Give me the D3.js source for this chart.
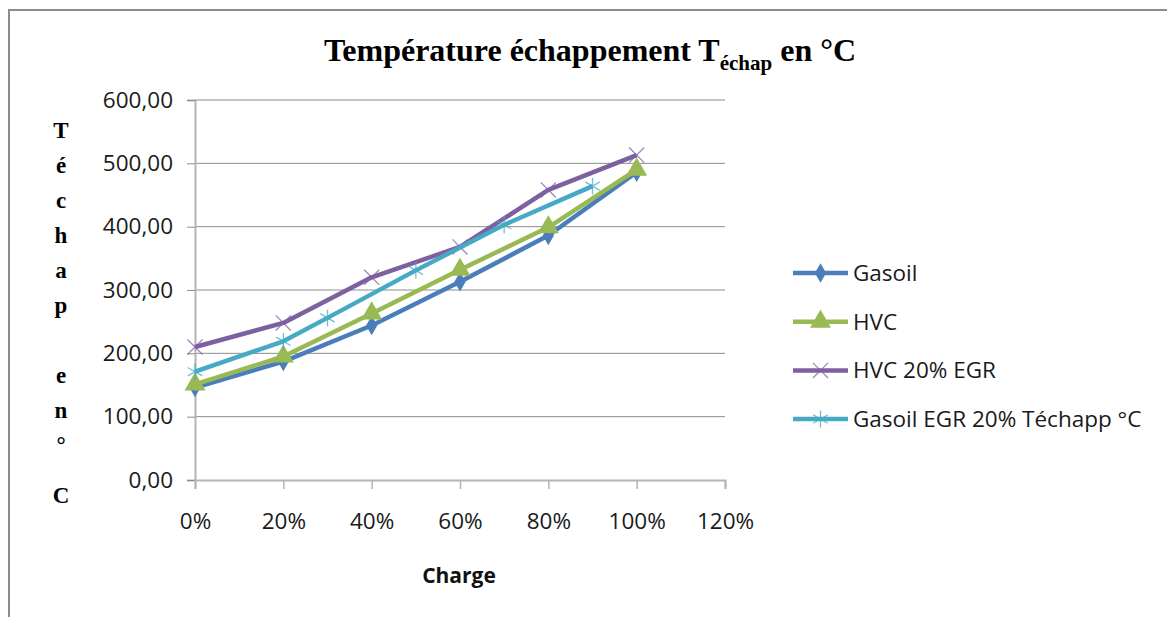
<!DOCTYPE html>
<html>
<head>
<meta charset="utf-8">
<script src="https://cdn.jsdelivr.net/npm/d3@7"></script>
<style>
  body { margin: 0; background: #fff; }
  svg { display: block; }
</style>
</head>
<body>
<div class="canvas"></div>
<script>
// data
const charge = [0, 0.2, 0.4, 0.6, 0.8, 1.0]
const gasoil = [146, 187, 244, 313, 386, 486]
const hvc = [151, 195, 263, 332, 399, 490]
const hvcEgr = [210, 248, 320, 368, 458, 513]
const chargeEgr = [0, 0.2, 0.3, 0.5, 0.7, 0.9]
const gasoilEgr = [171, 219, 256, 331, 403, 464]
const seriesNames = ['Gasoil', 'HVC', 'HVC 20% EGR', 'Gasoil EGR 20% Téchapp °C']
const yTicks = [0, 100, 200, 300, 400, 500, 600]
const xTicks = [0, 0.2, 0.4, 0.6, 0.8, 1.0, 1.2]
const yTitleLetters = ['T', 'é', 'c', 'h', 'a', 'p', '', 'e', 'n', '°', 'C']

const series = [
  {name: seriesNames[0], xs: charge, ys: gasoil, color: '#4a7ebb', marker: 'diamond'},
  {name: seriesNames[1], xs: charge, ys: hvc, color: '#98b954', marker: 'triangle'},
  {name: seriesNames[2], xs: charge, ys: hvcEgr, color: '#7d60a0', marker: 'x'},
  {name: seriesNames[3], xs: chargeEgr, ys: gasoilEgr, color: '#46aac5', marker: 'star'}
]

const W = 1167, H = 617
const margin = {top: 100, left: 195}
const graphWidth = 530
const graphHeight = 380
const uiFont = '"Open Sans", Lato, sans-serif'
const serifFont = '"Liberation Serif", "Times New Roman", serif'

const svg = d3.select('.canvas')
              .append('svg')
              .attr('width', W)
              .attr('height', H)

// outer frame (top + left edges visible)
svg.append('path')
   .attr('d', `M9,${H} L9,10 L${W},10`)
   .attr('fill', 'none')
   .attr('stroke', '#8c8c8c')
   .attr('stroke-width', 2)

const graph = svg.append('g')
                 .attr('transform', `translate(${margin.left}, ${margin.top})`)

//scales
const xScale = d3.scaleLinear().domain([0, 1.2]).range([0, graphWidth])
const yScale = d3.scaleLinear().domain([0, 600]).range([graphHeight, 0])

// gridlines
graph.append('g')
     .selectAll('line')
     .data(yTicks.filter(d => d > 0))
     .join('line')
     .attr('x1', 0)
     .attr('x2', graphWidth)
     .attr('y1', d => yScale(d))
     .attr('y2', d => yScale(d))
     .attr('stroke', '#8c8c8c')
     .attr('stroke-width', 1)

//axes
const yAxis = d3.axisLeft(yScale)
                .tickValues(yTicks)
                .tickSize(8)
                .tickPadding(14)
                .tickFormat(d => d3.format('.2f')(d).replace('.', ','))
const xAxis = d3.axisBottom(xScale)
                .tickValues(xTicks)
                .tickSize(9)
                .tickPadding(24)
                .tickFormat(d => Math.round(d * 100) + '%')

const yAxisGroup = graph.append('g').call(yAxis)
const xAxisGroup = graph.append('g')
                        .attr('transform', `translate(0, ${graphHeight})`)
                        .call(xAxis)

;[xAxisGroup, yAxisGroup].forEach(g => {
  g.select('.domain').attr('stroke', '#b4b4b4').attr('stroke-width', 2)
  g.selectAll('.tick line').attr('stroke', '#b4b4b4').attr('stroke-width', 1.5)
  g.selectAll('text')
   .attr('fill', '#1a1a1a')
   .style('font-family', uiFont)
   .style('font-size', '22.5px')
})
yAxisGroup.selectAll('.tick line').attr('stroke', '#8c8c8c').attr('stroke-width', 1)

// line generator
const line = d3.line()
               .x(d => xScale(d[0]))
               .y(d => yScale(d[1]))

const symbolFor = {
  diamond: d3.symbol().type(d3.symbolDiamond).size(110),
  triangle: d3.symbol().type(d3.symbolTriangle).size(190),
  x: d3.symbol().type(d3.symbolX).size(150),
  star: d3.symbol().type(d3.symbolAsterisk).size(200)
}

const drawMarker = (g, s) => {
  const hollow = s.marker === 'x' || s.marker === 'star'
  g.attr('d', symbolFor[s.marker]())
   .attr('fill', hollow ? 'none' : s.color)
   .attr('stroke', s.color)
   .attr('stroke-width', hollow ? 1.3 : 0)
   .attr('opacity', hollow ? 0.75 : 1)
}

series.forEach(s => {
  const pts = s.xs.map((x, i) => [x, s.ys[i]])
  const g = graph.append('g')
  g.append('path')
   .datum(pts)
   .attr('fill', 'none')
   .attr('stroke', s.color)
   .attr('stroke-width', 4.5)
   .attr('stroke-linejoin', 'round')
   .attr('d', line)
  g.selectAll('path.marker')
   .data(pts)
   .join('path')
   .attr('class', 'marker')
   .attr('transform', d => `translate(${xScale(d[0])}, ${yScale(d[1])})`)
   .each(function(){ drawMarker(d3.select(this), s) })
})

// legend
const legend = svg.append('g').attr('transform', 'translate(793, 273)')
series.forEach((s, i) => {
  const row = legend.append('g').attr('transform', `translate(0, ${i * 48.7})`)
  row.append('line')
     .attr('x1', 0).attr('x2', 55)
     .attr('stroke', s.color)
     .attr('stroke-width', 4.5)
  row.append('path')
     .attr('transform', 'translate(27.5, 0)')
     .call(g => drawMarker(g, s))
  row.append('text')
     .attr('x', 60)
     .attr('dy', '0.35em')
     .attr('fill', '#1a1a1a')
     .style('font-family', uiFont)
     .style('font-size', '22.5px')
     .text(s.name)
})

// title
const title = svg.append('text')
                 .attr('x', 590)
                 .attr('y', 61)
                 .attr('text-anchor', 'middle')
                 .style('font-family', serifFont)
                 .style('font-weight', 'bold')
                 .style('font-size', '32px')
title.append('tspan').text('Température échappement T')
title.append('tspan').attr('dy', 9).style('font-size', '21px').text('échap')
title.append('tspan').attr('dy', -9).text(' en °C')

// x axis title
svg.append('text')
   .attr('x', 459)
   .attr('y', 583)
   .attr('text-anchor', 'middle')
   .style('font-family', uiFont)
   .style('font-weight', 'bold')
   .style('font-size', '21px')
   .attr('fill', '#111')
   .text('Charge')

// y axis title, stacked letters (last one sits a bit lower, after the degree sign)
svg.append('g')
   .selectAll('text')
   .data(yTitleLetters)
   .join('text')
   .attr('x', 61)
   .attr('y', (d, i) => 138 + i * 35 + (i === yTitleLetters.length - 1 ? 15 : 0))
   .attr('text-anchor', 'middle')
   .style('font-family', serifFont)
   .style('font-weight', 'bold')
   .style('font-size', '23px')
   .text(d => d)
</script>
</body>
</html>
